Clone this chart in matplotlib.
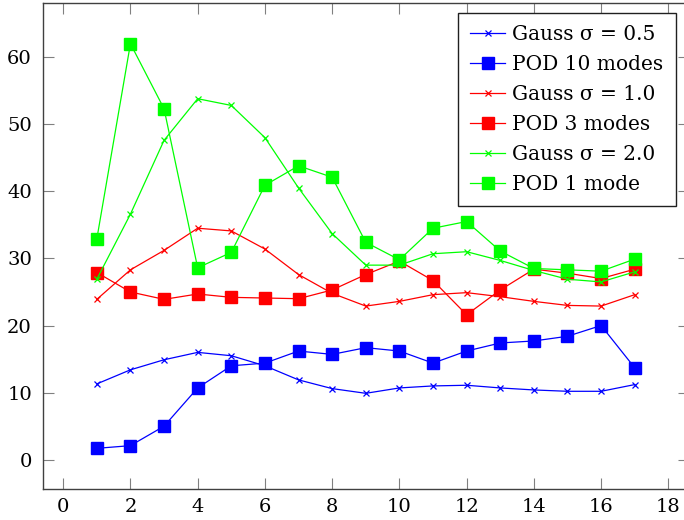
import numpy as np
import matplotlib
matplotlib.use("Agg")
import matplotlib.pyplot as plt

plt.rcParams['font.family'] = ['DejaVu Serif']

x = np.arange(1, 18)

gauss_05 = [11.3, 13.4, 14.9, 16.0, 15.5, 14.0, 11.9, 10.6, 9.9, 10.7,
            11.0, 11.1, 10.7, 10.4, 10.2, 10.2, 11.2]
pod_10 = [1.7, 2.1, 5.0, 10.7, 14.0, 14.4, 16.2, 15.7, 16.7, 16.2,
          14.4, 16.2, 17.4, 17.7, 18.4, 20.0, 13.7]
gauss_10 = [23.9, 28.3, 31.2, 34.5, 34.1, 31.4, 27.6, 24.8, 22.9, 23.6,
            24.6, 24.9, 24.3, 23.6, 23.0, 22.9, 24.6]
pod_3 = [27.9, 25.0, 23.9, 24.7, 24.2, 24.1, 24.0, 25.3, 27.6, 29.6,
         26.7, 21.6, 25.3, 28.4, 27.8, 27.0, 28.4]
gauss_20 = [26.9, 36.6, 47.6, 53.8, 52.8, 48.0, 40.5, 33.7, 29.0, 29.0,
            30.7, 31.0, 29.7, 28.2, 26.9, 26.5, 28.0]
pod_1 = [32.9, 62.0, 52.3, 28.6, 30.9, 40.9, 43.8, 42.1, 32.4, 29.8,
         34.5, 35.5, 31.1, 28.5, 28.3, 28.1, 29.9]

series = [
    ("Gauss σ = 0.5", gauss_05, "#0000ff", "x"),
    ("POD 10 modes", pod_10, "#0000ff", "s"),
    ("Gauss σ = 1.0", gauss_10, "#ff0000", "x"),
    ("POD 3 modes", pod_3, "#ff0000", "s"),
    ("Gauss σ = 2.0", gauss_20, "#00ff00", "x"),
    ("POD 1 mode", pod_1, "#00ff00", "s"),
]

fig = plt.figure(figsize=(6.84, 5.2), dpi=100)
ax = fig.add_axes([0.0629, 0.06, 0.9437, 0.9338])

for label, y, c, m in series:
    if m == "s":
        ax.plot(x, y, color=c, marker="s", markersize=9, linewidth=0.9,
                label=label)
    else:
        ax.plot(x, y, color=c, marker="x", markersize=5, markeredgewidth=0.9,
                linewidth=0.9, label=label)

ax.set_xlim(-0.6, 18.6)
ax.set_ylim(-4.33, 68.03)
ax.set_xticks(np.arange(0, 19, 2))
ax.set_yticks(np.arange(0, 61, 10))

ax.tick_params(direction="in", length=8, width=0.8, color="#808080",
               top=True, right=True, labelsize=14)
ax.tick_params(axis="y", pad=8)
ax.tick_params(axis="x", pad=6.5)
for s in ax.spines.values():
    s.set_color("#404040")
    s.set_linewidth(1.0)

leg = ax.legend(loc="upper right", bbox_to_anchor=(0.980, 0.980),
                borderaxespad=0, fancybox=False, framealpha=1,
                edgecolor="#202020", fontsize=14.5, handlelength=1.75,
                handletextpad=0.35, labelspacing=0.55, borderpad=0.6)
leg.get_frame().set_linewidth(1.0)

fig.savefig("out.png", dpi=100)
